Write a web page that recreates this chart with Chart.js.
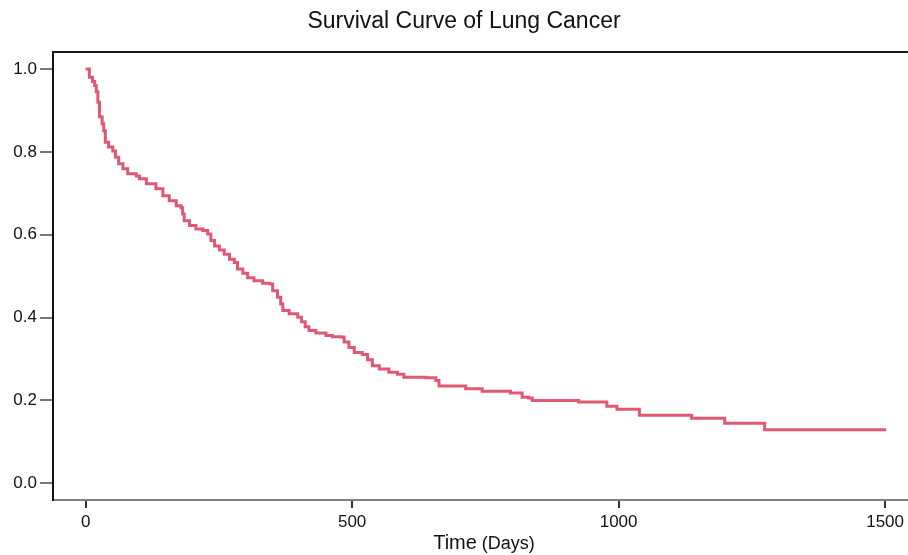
<!DOCTYPE html>
<html>
<head>
<meta charset="utf-8">
<script src="https://cdn.jsdelivr.net/npm/chart.js@4"></script>
<style>
  body { margin: 0; background: #fff; }
  canvas { display: block; }
</style>
</head>
<body>
<canvas id="survivalChart" width="908" height="555"></canvas>
<script>
// Kaplan-Meier steps: time (days) where survival drops, and new value
const times = [0, 7, 13, 17, 20, 23, 26, 31, 34, 37, 43, 51, 56, 62, 70, 79, 95, 101, 114, 132,
  145, 157, 170, 179, 182, 185, 195, 207, 220, 229, 235, 242, 251, 260, 270, 279, 285, 295, 304, 316,
  332, 346, 351, 360, 366, 370, 382, 398, 405, 412, 419, 432, 451, 463, 479, 485, 494, 504, 519, 529,
  538, 551, 569, 585, 597, 638, 657, 663, 713, 744, 797, 819, 831, 838, 925, 978, 997, 1039, 1137, 1199,
  1274, 1502];
const survival = [1.0, 0.98, 0.97, 0.96, 0.945, 0.92, 0.885, 0.868, 0.851, 0.823, 0.812, 0.802, 0.787, 0.771, 0.759, 0.747, 0.742, 0.735, 0.723, 0.711,
  0.694, 0.682, 0.670, 0.665, 0.650, 0.634, 0.622, 0.614, 0.610, 0.602, 0.586, 0.573, 0.563, 0.553, 0.541, 0.533, 0.517, 0.507, 0.496, 0.489,
  0.483, 0.481, 0.465, 0.449, 0.433, 0.417, 0.409, 0.401, 0.390, 0.378, 0.369, 0.363, 0.357, 0.354, 0.353, 0.341, 0.328, 0.316, 0.311, 0.298,
  0.284, 0.276, 0.268, 0.263, 0.256, 0.255, 0.248, 0.235, 0.228, 0.222, 0.218, 0.208, 0.206, 0.200, 0.196, 0.186, 0.179, 0.164, 0.157, 0.145,
  0.129, 0.129];

const xTicks = [0, 500, 1000, 1500];
const yTicks = [0.0, 0.2, 0.4, 0.6, 0.8, 1.0];

const FONT = "'Liberation Sans', Arial, sans-serif";

// title, top frame line and the mixed-size x axis title
const framePlugin = {
    id: "frame",
    afterDraw(chart) {
        const ctx = chart.ctx;
        const a = chart.chartArea;
        ctx.save();
        ctx.strokeStyle = "#1a1a1a";
        ctx.lineWidth = 2;
        ctx.beginPath();
        ctx.moveTo(a.left - 1, a.top);
        ctx.lineTo(chart.width, a.top);
        ctx.stroke();
        // bottom axis runs on to the edge of the picture
        ctx.strokeStyle = "#808080";
        ctx.beginPath();
        ctx.moveTo(a.right - 1, a.bottom);
        ctx.lineTo(chart.width, a.bottom);
        ctx.stroke();

        ctx.fillStyle = "#111";
        ctx.textAlign = "center";
        ctx.textBaseline = "middle";
        ctx.font = "23px " + FONT;
        ctx.fillText("Survival Curve of Lung Cancer", 464, 22);

        // "Time (Days)"
        ctx.textAlign = "left";
        ctx.textBaseline = "alphabetic";
        ctx.font = "20px " + FONT;
        const w1 = ctx.measureText("Time").width;
        ctx.font = "18px " + FONT;
        const w2 = ctx.measureText("(Days)").width;
        const gap = 5;
        let x = 484 - (w1 + gap + w2) / 2;
        ctx.font = "20px " + FONT;
        ctx.fillText("Time", x, 549);
        ctx.font = "18px " + FONT;
        ctx.fillText("(Days)", x + w1 + gap, 549);
        ctx.restore();
    }
};

const points = times.map((t, i) => ({ x: t, y: survival[i] }));

new Chart(document.getElementById("survivalChart").getContext("2d"), {
    type: "line",
    data: {
        datasets: [{
            label: "Survival",
            data: points,
            stepped: "before",
            borderColor: "#e05873",
            borderWidth: 3,
            pointRadius: 0,
            fill: false
        }]
    },
    options: {
        responsive: false,
        animation: false,
        layout: { padding: { left: 0, right: 0, top: 52, bottom: 0 } },
        plugins: {
            legend: { display: false },
            tooltip: { enabled: false },
            title: { display: false }
        },
        scales: {
            x: {
                type: "linear",
                min: -61.2,
                max: 1535.6,
                afterBuildTicks: s => { s.ticks = xTicks.map(v => ({ value: v })); },
                afterFit: s => { s.height = 55; },
                ticks: {
                    callback: v => String(v),
                    color: "#111",
                    font: { family: FONT, size: 17 },
                    padding: 4,
                    maxRotation: 0
                },
                grid: {
                    drawOnChartArea: false,
                    drawTicks: true,
                    tickLength: 8,
                    color: "#333",
                    lineWidth: 2
                },
                border: { color: "#808080", width: 2 }
            },
            y: {
                type: "linear",
                min: -0.0403,
                max: 1.041,
                afterBuildTicks: s => { s.ticks = yTicks.map(v => ({ value: v })); },
                afterFit: s => { s.width = 53; },
                ticks: {
                    callback: v => Number(v).toFixed(1),
                    color: "#111",
                    font: { family: FONT, size: 17 },
                    padding: 3
                },
                grid: {
                    drawOnChartArea: false,
                    drawTicks: true,
                    tickLength: 13,
                    color: "#777",
                    lineWidth: 2
                },
                border: { color: "#111", width: 2 }
            }
        }
    },
    plugins: [framePlugin]
});
</script>
</body>
</html>
